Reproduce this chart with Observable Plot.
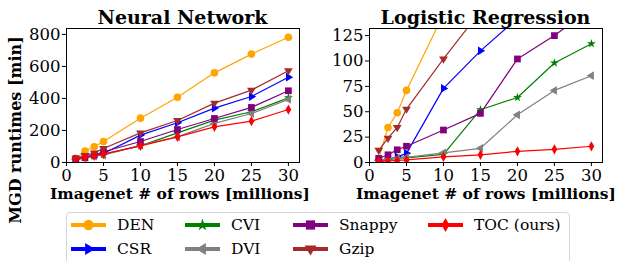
<!DOCTYPE html>
<html>
<head>
<meta charset="utf-8">
<script src="https://cdn.jsdelivr.net/npm/d3@7"></script>
<script src="https://cdn.jsdelivr.net/npm/@observablehq/plot@0.6"></script>
<style>
  html, body { margin: 0; padding: 0; background: white; }
  #fig { position: relative; width: 619px; height: 261px; overflow: hidden; background: white; font-family: "DejaVu Serif", serif; color: black; }
  .abs { position: absolute; }
  .title { font-weight: bold; font-size: 19px; white-space: nowrap; transform: translate(-50%, -50%); }
  .xlabel { font-weight: bold; font-size: 15.5px; white-space: nowrap; transform: translate(-50%, -50%); }
  .ylabel { font-weight: bold; font-size: 16px; white-space: nowrap; transform: translate(-50%, -50%) rotate(-90deg); }
  #legend { position: absolute; left: 66px; top: 212px; width: 504px; height: 60px; border: 1px solid #d6d6d6; border-radius: 4px; box-sizing: border-box; }
</style>
</head>
<body>
<div id="fig"></div>
<script>
// ---- data ----
const rows = [1.25, 2.5, 3.75, 5, 10, 15, 20, 25, 30];
const seriesNames = ["DEN", "CSR", "CVI", "DVI", "Snappy", "Gzip", "TOC (ours)"];
const seriesColors = ["orange", "blue", "green", "gray", "purple", "brown", "red"];

// Neural Network runtimes [min]
const nnDEN    = [25, 71, 98, 131, 277, 408, 560, 677, 782];
const nnCSR    = [19, 35, 46, 56, 171, 248, 340, 412, 533];
const nnCVI    = [18, 30, 40, 52, 104, 185, 265, 317, 404];
const nnDVI    = [18, 30, 40, 46, 108, 160, 244, 306, 394];
const nnSnappy = [23, 31, 46, 67, 131, 206, 275, 344, 448];
const nnGzip   = [25, 44, 60, 87, 185, 262, 371, 452, 573];
const nnTOC    = [19, 31, 42, 52, 104, 160, 223, 258, 331];

// Logistic Regression runtimes [min]
const lrDEN    = [4, 34.5, 49, 71, 146, 220, 300, 370, 440];
const lrCSR    = [1.5, 3, 5.6, 9, 73, 110, 142, 175, 210];
const lrCVI    = [2, 3, 4, 4.5, 8, 52, 64, 98, 117];
const lrDVI    = [2, 3, 4, 5, 9.5, 14, 47, 71, 85.5];
const lrSnappy = [4, 7.6, 12.5, 16, 32, 48.4, 102, 125, 152];
const lrGzip   = [12, 24, 34.5, 52.6, 102, 149, 200, 250, 300];
const lrTOC    = [1, 1.5, 2, 2.5, 5.6, 7.6, 11, 13, 16];

const xTicks = [0, 5, 10, 15, 20, 25, 30];
const nnYTicks = [0, 200, 400, 600, 800];
const lrYTicks = [0, 25, 50, 75, 100, 125];

// ---- custom marker shapes ----
function poly(pts) {
  return { draw(ctx, size) {
    const r = Math.sqrt(size / Math.PI);
    ctx.moveTo(pts[0][0] * r, pts[0][1] * r);
    for (let i = 1; i < pts.length; ++i) ctx.lineTo(pts[i][0] * r, pts[i][1] * r);
    ctx.closePath();
  }};
}
const triRight = poly([[1.25, 0], [-0.65, -1.15], [-0.65, 1.15]]);
const triLeft  = poly([[-1.25, 0], [0.65, -1.15], [0.65, 1.15]]);
const triDown  = poly([[0, 1.25], [-1.15, -0.65], [1.15, -0.65]]);
const thinDiamond = poly([[0, -1.35], [0.75, 0], [0, 1.35], [-0.75, 0]]);
const smallStar = { draw(ctx, size) { d3.symbolStar.draw(ctx, size * 0.55); } };
const seriesSymbols = ["circle", triRight, smallStar, triLeft, "square", triDown, thinDiamond];
const d3Symbols = [d3.symbolCircle, triRight, smallStar, triLeft, d3.symbolSquare, triDown, thinDiamond];

function buildTable(vals) {
  const out = [];
  seriesNames.forEach((name, i) => {
    vals[i].forEach((v, j) => out.push({series: name, idx: i, x: rows[j], y: v}));
  });
  return out;
}
const nnData = buildTable([nnDEN, nnCSR, nnCVI, nnDVI, nnSnappy, nnGzip, nnTOC]);
const lrData = buildTable([lrDEN, lrCSR, lrCVI, lrDVI, lrSnappy, lrGzip, lrTOC]);

function panel(data, yDomain, yTicks, opts) {
  const marks = [];
  seriesNames.forEach((name, i) => {
    const d = data.filter(r => r.idx === i);
    marks.push(Plot.line(d, {x: "x", y: "y", stroke: seriesColors[i], strokeWidth: 1.2, clip: true}));
    marks.push(Plot.dot(d, {x: "x", y: "y", r: 3.8, fill: seriesColors[i], stroke: "none", symbol: () => seriesSymbols[i], clip: true}));
  });
  return Plot.plot({
    width: opts.width, height: 200,
    marginLeft: opts.ml, marginRight: opts.mr, marginTop: 28, marginBottom: 38,
    x: {domain: [0, 31.5]},
    y: {domain: yDomain},
    symbol: {type: "identity"},
    style: {fontFamily: "DejaVu Serif", fontSize: "16px", background: "transparent", color: "black", overflow: "visible"},
    marks: [
      Plot.axisX({ticks: xTicks, tickSize: 4, tickPadding: 3, label: null, fontSize: 16.5}),
      Plot.axisY({ticks: yTicks, tickSize: 4, tickPadding: 2, label: null, fontSize: 16.5}),
      ...marks,
      Plot.frame({stroke: "black", strokeWidth: 1})
    ]
  });
}

const fig = document.getElementById("fig");
const left = panel(nnData, [0, 837], nnYTicks, {width: 310, ml: 66, mr: 11});
left.classList.add("abs"); left.style.left = "0px"; left.style.top = "0px";
fig.appendChild(left);
const right = panel(lrData, [0, 132], lrYTicks, {width: 319, ml: 69, mr: 17});
right.classList.add("abs"); right.style.left = "300px"; right.style.top = "0px";
fig.appendChild(right);

function addText(cls, txt, x, y) {
  const el = document.createElement("div");
  el.className = "abs " + cls;
  el.textContent = txt;
  el.style.left = x + "px"; el.style.top = y + "px";
  fig.appendChild(el);
}
addText("title", "Neural Network", 182.5, 17);
addText("title", "Logistic Regression", 485.5, 17);
addText("xlabel", "Imagenet # of rows [millions]", 180, 193);
addText("xlabel", "Imagenet # of rows [millions]", 486, 193);
addText("ylabel", "MGD runtimes [min]", 15, 130);

// ---- legend ----
const legend = document.createElement("div");
legend.id = "legend";
fig.appendChild(legend);
const lsvg = d3.select(legend).append("svg").attr("width", 504).attr("height", 60)
  .style("position", "absolute").style("left", "-1px").style("top", "-1px");
const colX = [5, 119, 227, 362];
const rowY = [13, 37];
seriesNames.forEach((name, i) => {
  const col = Math.floor(i / 2), row = i % 2;
  const x0 = colX[col], y0 = rowY[row];
  const g = lsvg.append("g").attr("transform", `translate(${x0},${y0})`);
  g.append("line").attr("x1", 0).attr("x2", 35).attr("y1", 0).attr("y2", 0)
    .attr("stroke", seriesColors[i]).attr("stroke-width", 3.8);
  g.append("path").attr("transform", "translate(17.5,0)")
    .attr("d", d3.symbol(d3Symbols[i], Math.PI * 5.2 * 5.2)())
    .attr("fill", seriesColors[i]);
  g.append("text").attr("x", 46).attr("y", 0).attr("dy", "0.35em")
    .attr("font-family", "DejaVu Serif").attr("font-size", 15.5).text(name);
});
</script>
</body>
</html>
